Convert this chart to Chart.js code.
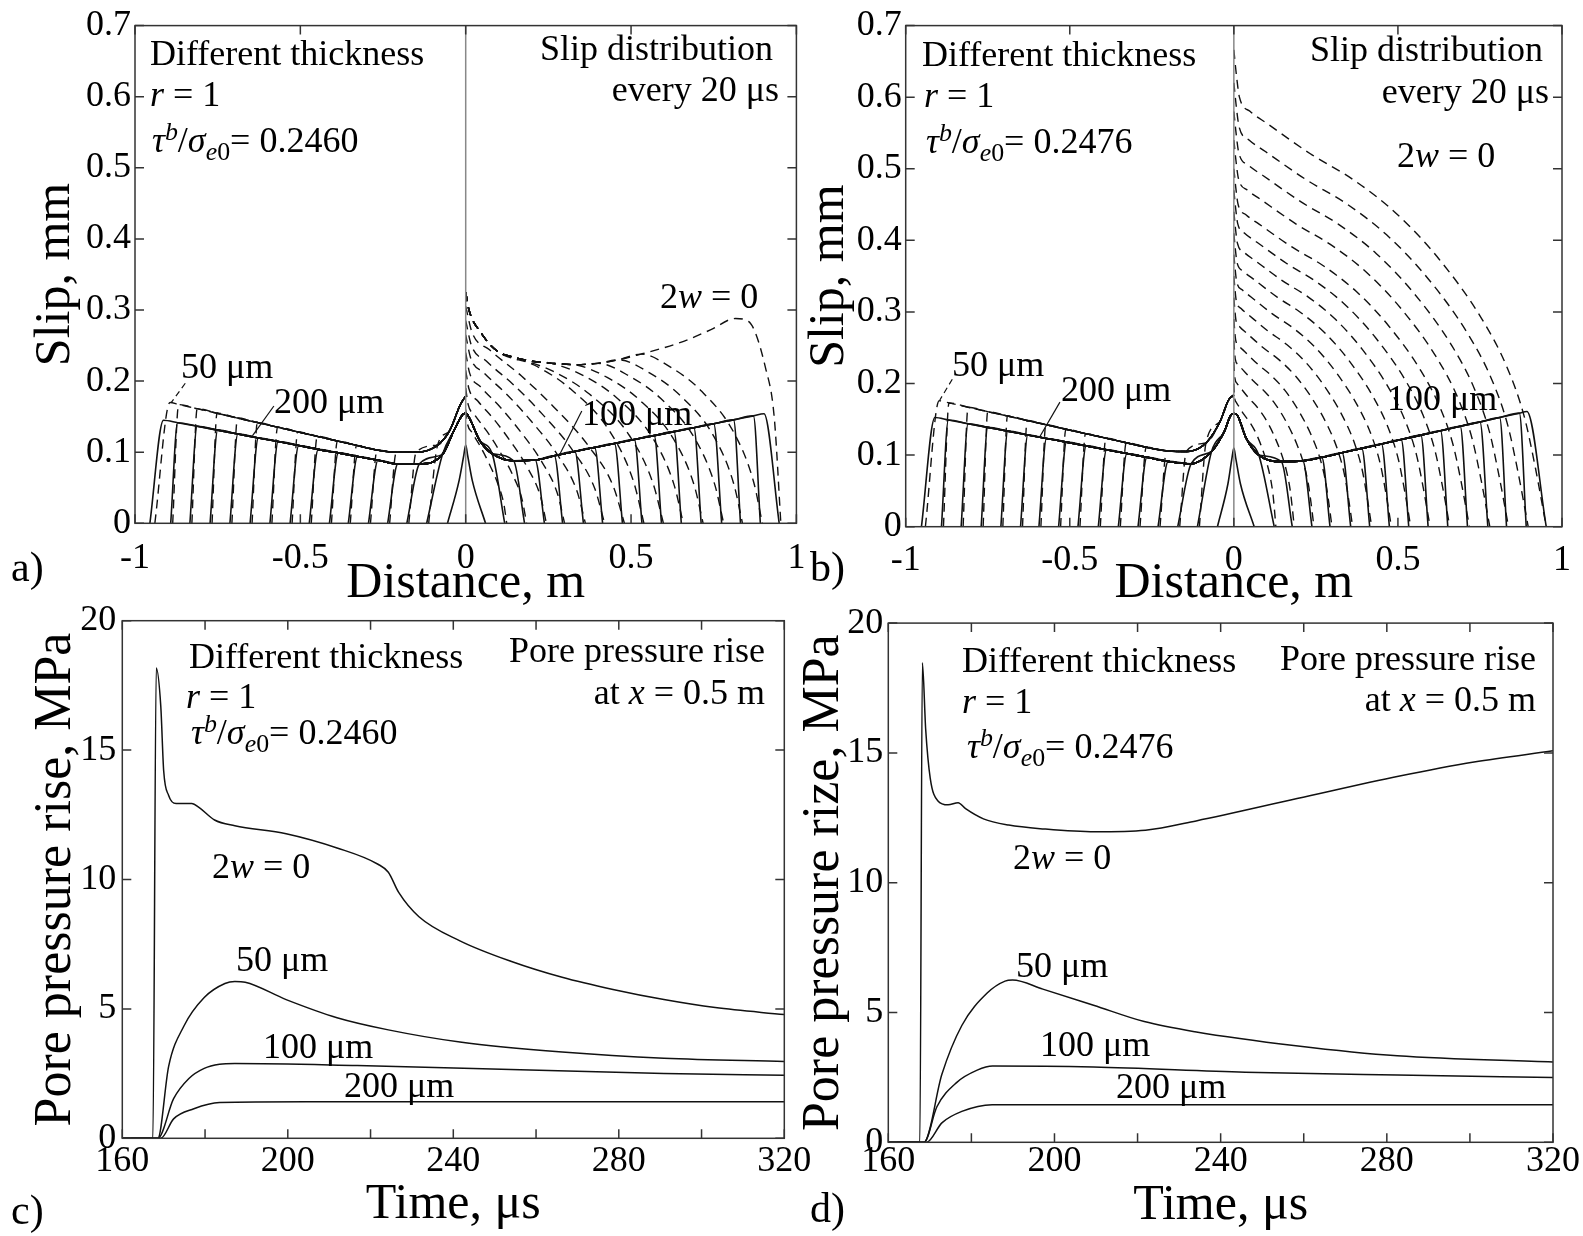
<!DOCTYPE html>
<html lang="en">
<head>
<meta charset="utf-8">
<title>Slip distribution and pore pressure rise, different thickness</title>
<script src="https://cdn.jsdelivr.net/npm/chart.js@4.4.1/dist/chart.umd.min.js"></script>
<style>
  html, body { margin: 0; padding: 0; background: #fff; }
  #fig { position: relative; width: 1583px; height: 1236px; overflow: hidden;
         font-family: 'Liberation Serif', 'Times New Roman', serif; color: #000; }
  #fig canvas { position: absolute; left: 0; top: 0; }
  .t { position: absolute; white-space: nowrap; line-height: 1; }
  .t .sp, .t .sb { font-size: 0.72em; position: relative; line-height: 0; }
  .t .sp { top: -0.45em; }
  .t .sb { top: 0.32em; }
</style>
</head>
<body>
<div id="fig">
  <canvas id="chartA" width="1583" height="1236"></canvas>
  <canvas id="chartB" width="1583" height="1236"></canvas>
  <canvas id="chartC" width="1583" height="1236"></canvas>
  <canvas id="chartD" width="1583" height="1236"></canvas>
</div>
<script>
// ---- panel a: slip, tau/sigma = 0.2460 ----
// first snapshot (20 us), same for all thicknesses
const aFirstX = [-0.055, -0.02, -0.006, 0, 0.006, 0.02, 0.06];
const aFirstY = [0, 0.06, 0.095, 0.11, 0.095, 0.06, 0];
// 200 um, left half: final slip (from centre outwards) and rupture tips every 20 us
const aEnv200X = [0, -0.009, -0.036, -0.07, -0.14, -0.205, -0.265, -0.327, -0.385, -0.446, -0.505, -0.567, -0.627, -0.689, -0.75, -0.812, -0.871, -0.914];
const aEnv200Y = [0.155, 0.153, 0.13, 0.097, 0.0836, 0.0836, 0.0887, 0.094, 0.099, 0.104, 0.1095, 0.115, 0.12, 0.1255, 0.131, 0.1365, 0.1415, 0.145];
const aTips200 = [-0.118, -0.178, -0.236, -0.294, -0.355, -0.412, -0.473, -0.531, -0.592, -0.652, -0.713, -0.773, -0.834, -0.892, -0.955];
// 50 um, left half (dashed)
const aEnv50X = [0, -0.016, -0.049, -0.085, -0.15, -0.21, -0.268, -0.33, -0.388, -0.449, -0.508, -0.569, -0.63, -0.69, -0.752, -0.812, -0.868, -0.894];
const aEnv50Y = [0.179, 0.167, 0.13, 0.11, 0.1, 0.1, 0.103, 0.1096, 0.1158, 0.1223, 0.1286, 0.1352, 0.1417, 0.148, 0.1548, 0.1612, 0.167, 0.17];
const aTips50 = [-0.112, -0.172, -0.23, -0.288, -0.349, -0.406, -0.467, -0.525, -0.586, -0.646, -0.707, -0.767, -0.828, -0.886, -0.94];
// 100 um, right half
const aEnv100X = [0, 0.009, 0.043, 0.08, 0.145, 0.21, 0.268, 0.33, 0.39, 0.45, 0.51, 0.57, 0.63, 0.69, 0.75, 0.81, 0.87, 0.902];
const aEnv100Y = [0.155, 0.15, 0.116, 0.098, 0.088, 0.089, 0.095, 0.1011, 0.1067, 0.1122, 0.1178, 0.1233, 0.1289, 0.1344, 0.14, 0.1455, 0.1511, 0.154];
const aTips100 = [0.118, 0.178, 0.238, 0.293, 0.356, 0.414, 0.474, 0.533, 0.592, 0.652, 0.712, 0.774, 0.831, 0.891, 0.948];
// 2w = 0, right half (dashed): last snapshot, then for each earlier snapshot its tip,
// the point of the last snapshot where it leaves it (index) and the slip there
const aFinal0X = [0, 0.01, 0.043, 0.096, 0.15, 0.2, 0.26, 0.331, 0.4, 0.462, 0.53, 0.6, 0.659, 0.74, 0.816, 0.855, 0.907, 0.933, 0.953];
const aFinal0Y = [0.325, 0.3, 0.27, 0.242, 0.233, 0.228, 0.225, 0.223, 0.225, 0.23, 0.238, 0.247, 0.256, 0.272, 0.288, 0.284, 0.218, 0.149, 0];
const aTips0 = [0.124, 0.184, 0.244, 0.299, 0.362, 0.42, 0.48, 0.539, 0.598, 0.658, 0.718, 0.78, 0.837, 0.897];
const aStart0 = [0, 0, 0, 0, 0, 0, 0, 3, 4, 6, 7, 8, 9, 10];
const aHead0 = [0.16, 0.19, 0.215, 0.24, 0.265, 0.285, 0.305, 0.242, 0.233, 0.225, 0.223, 0.225, 0.23, 0.238];
// shape of a snapshot between that point and its tip (early ones / later ones)
const aCrackU = [0, 0.04, 0.15, 0.35, 0.55, 0.77, 0.93, 1];
const aCrackF = [1, 0.88, 0.8, 0.68, 0.54, 0.36, 0.17, 0];
const aFrontU = [0, 0.25, 0.5, 0.77, 0.93, 1];
const aFrontF = [1, 0.92, 0.78, 0.53, 0.24, 0];
// leader lines of the labels
const aLead50X = [-0.848, -0.89], aLead50Y = [0.197, 0.17];
const aLead200X = [-0.58, -0.645], aLead200Y = [0.165, 0.123];
const aLead100X = [0.351, 0.285], aLead100Y = [0.158, 0.0976];

// ---- panel b: slip, tau/sigma = 0.2476 ----
const bFirstX = [-0.05, -0.018, -0.006, 0, 0.006, 0.02, 0.062];
const bFirstY = [0, 0.06, 0.095, 0.11, 0.095, 0.06, 0];
const bEnv200X = [0, -0.009, -0.029, -0.068, -0.13, -0.2, -0.265, -0.326, -0.388, -0.45, -0.51, -0.571, -0.628, -0.689, -0.75, -0.81, -0.87, -0.911];
const bEnv200Y = [0.158, 0.156, 0.133, 0.105, 0.088, 0.0913, 0.0969, 0.1022, 0.1075, 0.1129, 0.1181, 0.1233, 0.1282, 0.1335, 0.1387, 0.1439, 0.1491, 0.1526];
const bTips200 = [-0.111, -0.171, -0.231, -0.292, -0.352, -0.413, -0.475, -0.534, -0.594, -0.65, -0.71, -0.77, -0.831, -0.891, -0.952];
const bEnv50X = [0, -0.016, -0.042, -0.085, -0.145, -0.205, -0.267, -0.328, -0.39, -0.452, -0.512, -0.573, -0.63, -0.69, -0.75, -0.81, -0.868, -0.898];
const bEnv50Y = [0.184, 0.177, 0.147, 0.117, 0.105, 0.106, 0.111, 0.1173, 0.1237, 0.13, 0.1362, 0.1425, 0.1484, 0.1546, 0.1607, 0.1669, 0.1729, 0.176];
const bTips50 = [-0.105, -0.165, -0.225, -0.286, -0.346, -0.407, -0.469, -0.528, -0.588, -0.644, -0.704, -0.764, -0.825, -0.885, -0.94];
const bEnv100X = [0, 0.01, 0.037, 0.076, 0.145, 0.21, 0.268, 0.33, 0.39, 0.45, 0.51, 0.57, 0.63, 0.69, 0.75, 0.81, 0.87, 0.893];
const bEnv100Y = [0.158, 0.156, 0.124, 0.1, 0.091, 0.092, 0.0969, 0.1033, 0.1094, 0.1156, 0.1217, 0.1279, 0.134, 0.1402, 0.1463, 0.1525, 0.1586, 0.161];
const bTips100 = [0.123, 0.178, 0.238, 0.293, 0.356, 0.414, 0.474, 0.533, 0.592, 0.652, 0.712, 0.774, 0.831, 0.891, 0.952];
// 2w = 0: last snapshot, earlier ones have the same shape
const bFinal0X = [0, 0.008, 0.017, 0.05, 0.102, 0.233, 0.363, 0.494, 0.625, 0.756, 0.834, 0.886, 0.919, 0.952];
const bFinal0Y = [0.666, 0.63, 0.6, 0.58, 0.563, 0.521, 0.485, 0.438, 0.374, 0.29, 0.221, 0.152, 0.082, 0];
const bTips0 = [0.128, 0.184, 0.244, 0.299, 0.362, 0.42, 0.48, 0.539, 0.598, 0.658, 0.718, 0.78, 0.837, 0.897];
const bHead0 = [0.2, 0.23, 0.26, 0.29, 0.32, 0.35, 0.38, 0.41, 0.44, 0.47, 0.5, 0.54, 0.58, 0.62];
const bLead50X = [-0.858, -0.896], bLead50Y = [0.206, 0.177];
const bLead200X = [-0.53, -0.591], bLead200Y = [0.174, 0.126];

// ---- panel c: pore pressure rise at x = 0.5 m, 0.2460 ----
const cT0 = [160, 167.4, 168.2, 169.3, 170, 171.2, 173, 176.8, 178.6, 182.3, 187.2, 199.6, 211.9, 221.8, 224.3, 226.8, 231.7, 241.6, 253.9, 266.3, 278.6, 290.9, 303.3, 320];
const cP0 = [0, 0, 18.17, 16.7, 14.2, 13.25, 12.94, 12.94, 12.78, 12.3, 12.08, 11.77, 11.22, 10.59, 10.28, 9.5, 8.56, 7.63, 6.84, 6.22, 5.75, 5.36, 5.05, 4.78];
const cT50 = [160, 168.6, 171.2, 174.9, 179.8, 184.8, 187.2, 189.7, 199.6, 211.9, 224.3, 241.6, 266.3, 290.9, 320];
const cP50 = [0, 0, 2.78, 4.34, 5.44, 5.98, 6.06, 6.03, 5.36, 4.66, 4.19, 3.72, 3.33, 3.09, 2.97];
const cT100 = [160, 168.6, 172.4, 176.1, 179.8, 183.5, 187.2, 216.8, 253.9, 290.9, 320];
const cP100 = [0, 0, 1.53, 2.31, 2.7, 2.86, 2.89, 2.81, 2.66, 2.5, 2.44];
const cT200 = [160, 169.3, 172.4, 177.3, 183.5, 204.4, 320];
const cP200 = [0, 0, 0.75, 1.14, 1.38, 1.41, 1.41];

// ---- panel d: pore pressure rise at x = 0.5 m, 0.2476 ----
const dT0 = [160, 167.6, 168.2, 169, 170.1, 171.9, 174.4, 176.8, 178.6, 182.9, 189, 197.5, 209.7, 221.9, 234.1, 258.4, 282.8, 301, 320];
const dP0 = [0, 0, 18.47, 15.9, 14.02, 13.16, 13.0, 13.08, 12.85, 12.46, 12.22, 12.07, 11.96, 12.02, 12.38, 13.24, 14.1, 14.65, 15.08];
const dT50 = [160, 168.6, 172.9, 177.7, 183.8, 188.1, 189.9, 197.2, 209.4, 221.6, 233.8, 258.1, 282.5, 320];
const dP50 = [0, 0, 2.62, 4.5, 5.75, 6.21, 6.25, 5.9, 5.28, 4.65, 4.26, 3.72, 3.33, 3.09];
const dT100 = [160, 168.6, 171.7, 176.5, 181.4, 185.1, 209.4, 245.9, 282.5, 320];
const dP100 = [0, 0, 1.37, 2.31, 2.78, 2.94, 2.9, 2.7, 2.59, 2.5];
const dT200 = [160, 169.2, 172.9, 177.7, 185, 209, 320];
const dP200 = [0, 0, 0.75, 1.19, 1.45, 1.45, 1.45];

const SERIF = "'Liberation Serif', 'Times New Roman', serif";

const pts = (xs, ys) => xs.map((x, i) => ({ x, y: ys[i] }));

// slip profile at each tip: final slip behind the tip, then down to zero at the tip
function pulseCurves(envX, envY, tips) {
  return tips.map(tip => {
    const p = [];
    envX.forEach((x, i) => { if (Math.abs(x) < Math.abs(tip)) p.push({ x, y: envY[i] }); });
    p.push({ x: tip, y: 0 });
    return p.sort((u, v) => u.x - v.x);
  });
}

// crack-like snapshots: one shape stretched to each tip and slip at x = 0
function crackCurves(shapeX, shapeY, tips, heads) {
  const x0 = shapeX[shapeX.length - 1], y0 = shapeY[0];
  return tips.map((tip, k) => shapeX.map((x, i) => ({ x: x * tip / x0, y: shapeY[i] * heads[k] / y0 })));
}

// snapshots that follow the last one up to a point, then fall to their tip
function frontCurves(envX, envY, tips, starts, heads, crackU, crackF, frontU, frontF) {
  return tips.map((tip, k) => {
    const s = starts[k];
    const p = envX.slice(0, s).map((x, i) => ({ x, y: envY[i] }));
    const x0 = envX[s];
    const U = s === 0 ? crackU : frontU, F = s === 0 ? crackF : frontF;
    U.forEach((u, i) => p.push({ x: x0 + u * (tip - x0), y: F[i] * heads[k] }));
    return p;
  });
}

const baseLine = { borderColor: '#111', pointRadius: 0, fill: false, cubicInterpolationMode: 'monotone' };
const solid = (data, w) => ({ ...baseLine, data, borderWidth: w || 1.6 });
const dashed = (data, w) => ({ ...baseLine, data, borderWidth: w || 1.4, borderDash: [9, 6] });
const thin = data => ({ ...baseLine, data, borderWidth: 1.2, cubicInterpolationMode: 'default', tension: 0 });

// frame and inward ticks, like the original figure
const framePlugin = {
  id: 'frame',
  afterDatasetsDraw(chart, args, opts) {
    const { ctx, chartArea: a, scales } = chart;
    const len = opts.len || 9;
    ctx.save();
    ctx.strokeStyle = '#333';
    ctx.lineWidth = 1.5;
    ctx.beginPath();
    scales.x.ticks.forEach(t => {
      const px = scales.x.getPixelForValue(t.value);
      ctx.moveTo(px, a.bottom); ctx.lineTo(px, a.bottom - len);
      ctx.moveTo(px, a.top); ctx.lineTo(px, a.top + len);
    });
    scales.y.ticks.forEach(t => {
      const py = scales.y.getPixelForValue(t.value);
      ctx.moveTo(a.left, py); ctx.lineTo(a.left + len, py);
      ctx.moveTo(a.right, py); ctx.lineTo(a.right - len, py);
    });
    ctx.stroke();
    ctx.strokeRect(a.left, a.top, a.right - a.left, a.bottom - a.top);
    ctx.restore();
  }
};

function panelOptions(p) {
  const padL = p.yTitleX - 0.6 * p.yTitleSize;
  const yw = p.left - padL;
  const xh = p.xTitleY - p.bottom + 0.6 * p.xTitleSize;
  const noGrid = { display: false, drawTicks: false };
  return {
    responsive: false,
    animation: false,
    events: [],
    layout: { padding: { left: padL, top: p.top, right: 1583 - p.right, bottom: 1236 - p.bottom - xh } },
    plugins: { legend: { display: false }, tooltip: { enabled: false }, frame: { len: 9 } },
    scales: {
      x: {
        type: 'linear', min: p.xMin, max: p.xMax,
        grid: noGrid, border: { display: false },
        ticks: { stepSize: p.xStep, autoSkip: false, maxRotation: 0, padding: p.xTickPad, color: '#000',
                 font: { family: SERIF, size: 36 }, callback: p.xLabel },
        title: { display: true, text: p.xTitle, color: '#000', padding: 0, font: { family: SERIF, size: p.xTitleSize } },
        afterFit: s => { s.height = xh; }
      },
      y: {
        type: 'linear', min: p.yMin, max: p.yMax,
        grid: noGrid, border: { display: false },
        ticks: { stepSize: p.yStep, autoSkip: false, padding: p.yTickPad, color: '#000',
                 font: { family: SERIF, size: 36 }, callback: v => String(Math.round(v * 10) / 10) },
        title: { display: true, text: p.yTitle, color: '#000', padding: 0, font: { family: SERIF, size: p.yTitleSize } },
        afterFit: s => { s.width = yw; }
      }
    }
  };
}

function slipDatasets(s) {
  return [
    { ...thin(pts([0, 0], [0, 0.7])), borderColor: '#888', borderWidth: 1.5 },
    solid(pts(s.firstX, s.firstY)),
    ...pulseCurves(s.env200X, s.env200Y, s.tips200).map(d => solid(d)),
    ...pulseCurves(s.env50X, s.env50Y, s.tips50).map(d => dashed(d)),
    ...pulseCurves(s.env100X, s.env100Y, s.tips100).map(d => solid(d)),
    ...s.crack.map(d => dashed(d)),
    dashed(pts(s.final0X, s.final0Y)),
    ...s.leaders
  ];
}

const oneDecimal = v => String(Math.round(v * 10) / 10);
const every40 = v => (v % 40 === 0 ? String(v) : '');

new Chart(document.getElementById('chartA'), {
  type: 'line',
  data: { datasets: slipDatasets({
    firstX: aFirstX, firstY: aFirstY,
    env200X: aEnv200X, env200Y: aEnv200Y, tips200: aTips200,
    env50X: aEnv50X, env50Y: aEnv50Y, tips50: aTips50,
    env100X: aEnv100X, env100Y: aEnv100Y, tips100: aTips100,
    crack: frontCurves(aFinal0X, aFinal0Y, aTips0, aStart0, aHead0, aCrackU, aCrackF, aFrontU, aFrontF),
    final0X: aFinal0X, final0Y: aFinal0Y,
    leaders: [
      { ...thin(pts(aLead50X, aLead50Y)), borderDash: [6, 4] },
      thin(pts(aLead200X, aLead200Y)),
      thin(pts(aLead100X, aLead100Y))
    ]
  }) },
  options: panelOptions({
    left: 135, right: 796.4, top: 21.3, bottom: 523.3,
    xMin: -1, xMax: 1, xStep: 0.5, yMin: 0, yMax: 0.7, yStep: 0.1, xLabel: oneDecimal,
    xTitle: 'Distance, m', yTitle: 'Slip, mm', xTitleSize: 50, yTitleSize: 50,
    yTitleX: 56, xTitleY: 583.5, xTickPad: 14, yTickPad: 4
  }),
  plugins: [framePlugin]
});

new Chart(document.getElementById('chartB'), {
  type: 'line',
  data: { datasets: slipDatasets({
    firstX: bFirstX, firstY: bFirstY,
    env200X: bEnv200X, env200Y: bEnv200Y, tips200: bTips200,
    env50X: bEnv50X, env50Y: bEnv50Y, tips50: bTips50,
    env100X: bEnv100X, env100Y: bEnv100Y, tips100: bTips100,
    crack: crackCurves(bFinal0X, bFinal0Y, bTips0, bHead0),
    final0X: bFinal0X, final0Y: bFinal0Y,
    leaders: [
      { ...thin(pts(bLead50X, bLead50Y)), borderDash: [6, 4] },
      thin(pts(bLead200X, bLead200Y))
    ]
  }) },
  options: panelOptions({
    left: 905.7, right: 1567.7, top: 21, bottom: 526.7,
    xMin: -1, xMax: 1, xStep: 0.5, yMin: 0, yMax: 0.7, yStep: 0.1, xLabel: oneDecimal,
    xTitle: 'Distance, m', yTitle: 'Slip, mm', xTitleSize: 50, yTitleSize: 50,
    yTitleX: 830, xTitleY: 583.5, xTickPad: 12, yTickPad: 4
  }),
  plugins: [framePlugin]
});

new Chart(document.getElementById('chartC'), {
  type: 'line',
  data: { datasets: [
    solid(pts(cT0, cP0), 1.5), solid(pts(cT50, cP50), 1.5),
    solid(pts(cT100, cP100), 1.5), solid(pts(cT200, cP200), 1.5)
  ] },
  options: panelOptions({
    left: 122.3, right: 784.3, top: 620.7, bottom: 1138.3,
    xMin: 160, xMax: 320, xStep: 20, yMin: 0, yMax: 20, yStep: 5, xLabel: every40,
    xTitle: 'Time, μs', yTitle: 'Pore pressure rise, MPa', xTitleSize: 50, yTitleSize: 52,
    yTitleX: 56, xTitleY: 1205, xTickPad: 2, yTickPad: 6
  }),
  plugins: [framePlugin]
});

new Chart(document.getElementById('chartD'), {
  type: 'line',
  data: { datasets: [
    solid(pts(dT0, dP0), 1.5), solid(pts(dT50, dP50), 1.5),
    solid(pts(dT100, dP100), 1.5), solid(pts(dT200, dP200), 1.5)
  ] },
  options: panelOptions({
    left: 888.3, right: 1553, top: 623.1, bottom: 1142.3,
    xMin: 160, xMax: 320, xStep: 20, yMin: 0, yMax: 20, yStep: 5, xLabel: every40,
    xTitle: 'Time, μs', yTitle: 'Pore pressure rize, MPa', xTitleSize: 50, yTitleSize: 52,
    yTitleX: 824, xTitleY: 1206, xTickPad: -2, yTickPad: 5
  }),
  plugins: [framePlugin]
});

// ---- text in the panels ----
const fig = document.getElementById('fig');
function note(html, x, base, align, size) {
  size = size || 36;
  const d = document.createElement('div');
  d.className = 't';
  d.innerHTML = html;
  d.style.fontSize = size + 'px';
  d.style.top = (base - 0.8375 * size) + 'px';
  if (align === 'right') d.style.right = (1583 - x) + 'px';
  else d.style.left = x + 'px';
  fig.appendChild(d);
}
const tau = v => '<i>τ</i><span class="sp"><i>b</i></span>/<i>σ</i><span class="sb"><i>e</i>0</span>= ' + v;

note('Different thickness', 150, 65);
note('<i>r</i> = 1', 150, 106);
note(tau('0.2460'), 152, 152);
note('Slip distribution', 773, 60, 'right');
note('every 20 μs', 779, 101, 'right');
note('2<i>w</i> = 0', 660, 308);
note('50 μm', 181, 378);
note('200 μm', 274, 413);
note('100 μm', 582, 425);
note('a)', 11, 581, 'left', 42);

note('Different thickness', 922, 66);
note('<i>r</i> = 1', 924, 107);
note(tau('0.2476'), 926, 153);
note('Slip distribution', 1543, 61, 'right');
note('every 20 μs', 1549, 103, 'right');
note('2<i>w</i> = 0', 1397, 167);
note('50 μm', 952, 376);
note('200 μm', 1061, 401);
note('100 μm', 1387, 410);
note('b)', 810, 581, 'left', 42);

note('Different thickness', 189, 668);
note('<i>r</i> = 1', 186, 708);
note(tau('0.2460'), 191, 744);
note('Pore pressure rise', 765, 662, 'right');
note('at <i>x</i> = 0.5 m', 765, 704, 'right');
note('2<i>w</i> = 0', 212, 878);
note('50 μm', 236, 971);
note('100 μm', 263, 1058);
note('200 μm', 344, 1097);
note('c)', 11, 1224, 'left', 42);

note('Different thickness', 962, 672);
note('<i>r</i> = 1', 962, 713);
note(tau('0.2476'), 967, 758);
note('Pore pressure rise', 1536, 670, 'right');
note('at <i>x</i> = 0.5 m', 1536, 711, 'right');
note('2<i>w</i> = 0', 1013, 869);
note('50 μm', 1016, 977);
note('100 μm', 1040, 1056);
note('200 μm', 1116, 1098);
note('d)', 810, 1222, 'left', 42);
</script>
</body>
</html>
